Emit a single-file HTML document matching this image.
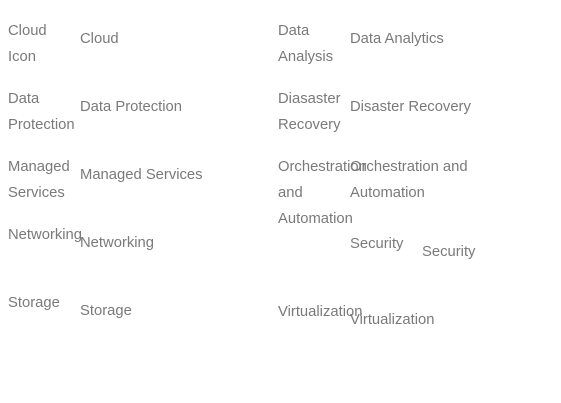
<!DOCTYPE html>
<html><head><style>
body{margin:0;width:561px;height:403px;background:#fff;position:relative;overflow:hidden}
div{position:absolute;font-family:"Liberation Sans",sans-serif;font-size:14.8px;line-height:26px;color:#7a7a7a;white-space:nowrap}
</style></head><body>
<div style="left:8px;top:18px">Cloud<br>Icon</div>
<div style="left:80px;top:26px">Cloud</div>
<div style="left:8px;top:86px">Data<br>Protection</div>
<div style="left:80px;top:94px">Data Protection</div>
<div style="left:8px;top:154px">Managed<br>Services</div>
<div style="left:80px;top:162px">Managed Services</div>
<div style="left:8px;top:222px">Networking</div>
<div style="left:80px;top:230px">Networking</div>
<div style="left:8px;top:290px">Storage</div>
<div style="left:80px;top:298px">Storage</div>
<div style="left:278px;top:18px">Data<br>Analysis</div>
<div style="left:350px;top:26px">Data Analytics</div>
<div style="left:278px;top:86px">Diasaster<br>Recovery</div>
<div style="left:350px;top:94px">Disaster Recovery</div>
<div style="left:278px;top:154px">Orchestration<br>and<br>Automation</div>
<div style="left:350px;top:154px">Orchestration and<br>Automation</div>
<div style="left:350px;top:231px">Security</div>
<div style="left:422px;top:239px">Security</div>
<div style="left:278px;top:299px">Virtualization</div>
<div style="left:350px;top:307px">Virtualization</div>
</body></html>
